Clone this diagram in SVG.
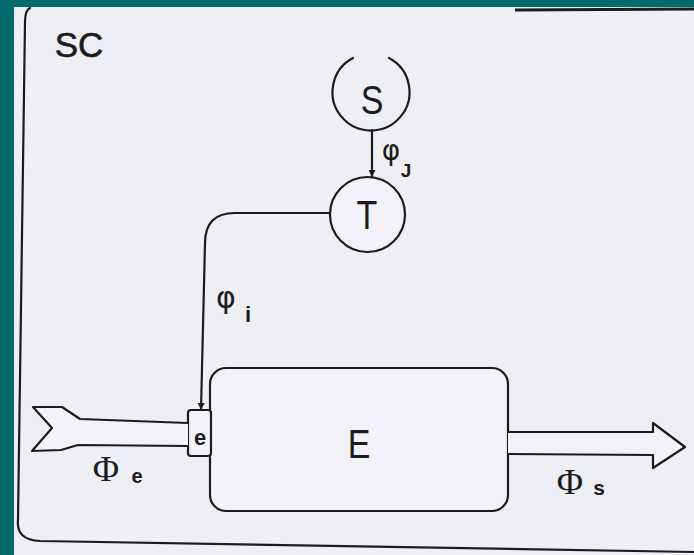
<svg xmlns="http://www.w3.org/2000/svg" width="694" height="555" viewBox="0 0 694 555">
  <style>
    .ln { fill: none; stroke: #1c1c1c; stroke-width: 2.2; stroke-linejoin: round; stroke-linecap: round; }
    .sh { fill: #f2f2f8; stroke: #1c1c1c; stroke-width: 2.2; stroke-linejoin: round; }
    .lbl { font-family: "Liberation Sans", Arial, sans-serif; fill: #1c1c1c; text-anchor: middle; }
    .big { font-family: "Liberation Sans", Arial, sans-serif; fill: #1c1c1c; text-anchor: middle; font-size: 40px; }
    .sub { font-family: "Liberation Sans", Arial, sans-serif; fill: #1c1c1c; font-weight: bold; text-anchor: middle; }
    .gr { font-family: "DejaVu Sans", "Liberation Sans", sans-serif; fill: #1c1c1c; text-anchor: middle; }
    .phi { font-family: "Liberation Serif", "DejaVu Serif", serif; fill: #1c1c1c; text-anchor: middle; }
  </style>
  <defs>
    <marker id="ah" viewBox="0 0 10 10" refX="10" refY="5" markerWidth="7" markerHeight="7" markerUnits="userSpaceOnUse" orient="auto">
      <path d="M0,0 L10,5 L0,10 z" fill="#1c1c1c"/>
    </marker>
  </defs>

  <!-- background -->
  <rect x="0" y="0" width="694" height="555" fill="#036b69"/>
  <rect x="14" y="7" width="680" height="548" fill="#eeeef5"/>

  <!-- system frame -->
  <g id="frame">
    <path class="ln" d="M 30 8 Q 25 10 25 22 L 18 520 Q 16 540 40 541 L 694 552"/>
    <path d="M 515 10 L 694 9" fill="none" stroke="#1c1c1c" stroke-width="3"/>
    <text class="lbl" x="79" y="57" font-size="35" stroke="#1c1c1c" stroke-width="0.6">SC</text>
  </g>

  <!-- nodes -->
  <g id="node-S">
    <path class="ln" d="M 353 58 A 38.5 38.5 0 1 0 389 58"/>
    <text class="big" transform="translate(372 114) scale(0.85 1)">S</text>
  </g>

  <g id="node-T">
    <circle class="sh" cx="367.5" cy="214.5" r="37.5"/>
    <text class="big" transform="translate(367 229) scale(0.85 1)">T</text>
  </g>

  <g id="node-E">
    <rect class="sh" x="210" y="368" width="298" height="143" rx="16" ry="16"/>
    <text class="big" transform="translate(359 458) scale(0.85 1)">E</text>
  </g>

  <g id="node-e">
    <rect class="sh" x="188" y="410" width="23" height="46" rx="3" ry="3"/>
    <text class="sub" x="200" y="445" font-size="22">e</text>
  </g>

  <!-- connectors -->
  <g id="connectors">
    <path class="ln" d="M 372 130 L 372 177" marker-end="url(#ah)"/>
    <path class="ln" d="M 330 213 L 235 213 Q 205 213 205 243 L 201 410" marker-end="url(#ah)"/>
    <!-- input flow (notched tail) -->
    <path class="sh" d="M 188 423 L 80 419 L 62 407 L 33 407 L 52 428 L 32 451 L 61 450 L 78 445 L 188 446"/>
    <!-- output flow (arrowhead) -->
    <path class="sh" d="M 508 432 L 653 432 L 653 423 L 685 447 L 653 468 L 653 455 L 508 454"/>
    <text class="gr" x="391" y="160" font-size="28">φ</text>
    <text class="sub" x="406" y="177" font-size="19">J</text>
    <text class="gr" x="226" y="308" font-size="30">φ</text>
    <text class="sub" x="248" y="322" font-size="22">i</text>
    <text class="phi" x="106" y="481" font-size="36">Φ</text>
    <text class="sub" x="137" y="483" font-size="20">e</text>
    <text class="phi" x="570" y="494" font-size="36">Φ</text>
    <text class="sub" x="599" y="495" font-size="21">s</text>
  </g>
</svg>
